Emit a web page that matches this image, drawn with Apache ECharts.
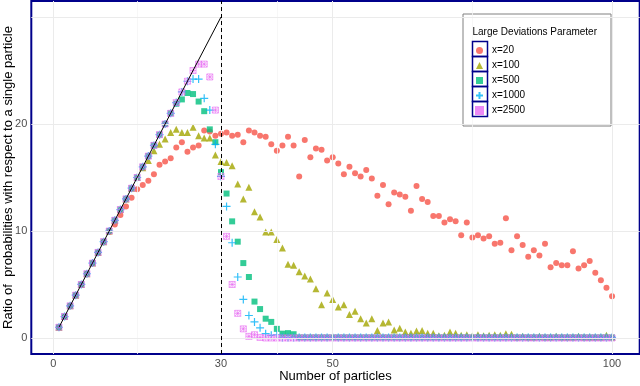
<!DOCTYPE html>
<html>
<head>
<meta charset="utf-8">
<script src="https://cdn.jsdelivr.net/npm/echarts@6/dist/echarts.min.js"></script>
<style>
html,body{margin:0;padding:0;background:#fff;}
#chart{width:640px;height:386px;}
</style>
</head>
<body>
<div id="chart"></div>
<script>
// Number of particles (x)
const particles = [1,2,3,4,5,6,7,8,9,10,11,12,13,14,15,16,17,18,19,20,21,22,23,24,25,26,27,28,29,30,
31,32,33,34,35,36,37,38,39,40,41,42,43,44,45,46,47,48,49,50,51,52,53,54,55,56,57,58,59,60,
61,62,63,64,65,66,67,68,69,70,71,72,73,74,75,76,77,78,79,80,81,82,83,84,85,86,87,88,89,90,
91,92,93,94,95,96,97,98,99,100];

const seriesNames = ['x=20','x=100','x=500','x=1000','x=2500'];

const ratioX20 = [1,2,3,4,5,6,7,8,9,9.9,10.6,11.5,12.3,13.1,13.9,14.3,14.7,15.3,16.2,16.5,
16.8,17.8,18.3,17.4,17.8,18.0,19.4,19.3,18.9,19.1,19.2,18.9,19.0,18.3,19.4,19.2,18.9,18.8,18.1,17.5,
18.0,18.8,18.0,15.1,18.5,16.9,17.7,17.6,16.6,16.9,16.3,15.3,16.0,15.4,15.1,15.7,14.9,13.3,14.3,12.5,
13.6,13.4,13.2,11.9,14.2,13.0,12.7,11.4,11.4,10.8,11.1,10.9,9.6,10.8,9.4,9.6,9.3,9.5,8.8,8.9,
11.2,8.2,9.5,8.7,7.6,8.2,7.7,8.8,6.6,7.0,6.8,6.8,8.1,6.5,6.8,7.2,6.1,5.4,4.7,3.9];

const ratioX100 = [1,2,3,4,5,6,7,8,9,10,11,12,13,14,15,15.9,16.6,17.5,18.1,18.6,
19.2,19.5,19.2,19.2,19.7,18.9,18.7,18.7,17.1,16.5,16.4,16.1,14.4,13.0,14.1,11.8,11.3,9.9,9.9,9.2,
8.4,6.9,6.8,6.2,5.8,5.5,4.6,3.1,4.2,3.6,2.9,3.1,2.2,2.5,1.8,1.4,1.8,0.7,1.4,1.5,
0.75,0.9,0.55,0.45,0.65,0.7,0.45,0.45,0.2,0.25,0.55,0.45,0.25,0.3,0.2,0.3,0.2,0.25,0.3,0.25,
0.4,0.35,0.1,0.15,0.1,0.1,0.15,0.1,0.1,0.15,0.1,0.1,0.1,0.15,0.1,0.1,0.1,0.1,0.25,0.1];

const ratioX500 = [1,2,3,4,5,6,7,8,9,10,11,12,13,14,15,16,17,18,19,20,
21,21.9,22.3,22.9,22.8,22.1,21.2,19.5,18.3,15.5,13.5,10.9,9.0,7.0,5.7,3.4,2.7,1.8,1.5,0.85,
0.4,0.45,0.35,0.05,0.05,0.05,0.05,0.05,0.05,0.05,0.05,0.05,0.05,0.05,0.05,0.05,0.05,0.05,0.05,0.05,
0.05,0.05,0.05,0.05,0.05,0.05,0.05,0.05,0.05,0.05,0.05,0.05,0.05,0.05,0.05,0.05,0.05,0.05,0.05,0.05,
0.05,0.05,0.05,0.05,0.05,0.05,0.05,0.05,0.05,0.05,0.05,0.05,0.05,0.05,0.05,0.05,0.05,0.05,0.05,0.05];

const ratioX1000 = [1,2,3,4,5,6,7,8,9,10,11,12,13,14,15,16,17,18,19,20,
21,22,23,24,24.2,24.2,22.4,21.3,18.1,15.1,12.3,8.9,5.7,3.6,2.1,1.5,0.95,0.4,0.25,0.3,
0.05,0.05,0.05,0.05,0.05,0.05,0.05,0.05,0.05,0.05,0.05,0.05,0.05,0.05,0.05,0.05,0.05,0.05,0.05,0.05,
0.05,0.05,0.05,0.05,0.05,0.05,0.05,0.05,0.05,0.05,0.05,0.05,0.05,0.05,0.05,0.05,0.05,0.05,0.05,0.05,
0.05,0.05,0.05,0.05,0.05,0.05,0.05,0.05,0.05,0.05,0.05,0.05,0.05,0.05,0.05,0.05,0.05,0.05,0.05,0.05];

const ratioX2500 = [1,2,3,4,5,6,7,8,9,10,11,12,13,14,15,16,17,18,19,20,
21,22,23,24,25,25.6,25.6,24.4,21.3,15.1,9.5,5.0,2.3,0.85,0.15,0.3,0.05,0,0,0,
0,0,0,0,0,0,0,0,0,0,0,0,0,0,0,0,0,0,0,0,
0,0,0,0,0,0,0,0,0,0,0,0,0,0,0,0,0,0,0,0,
0,0,0,0,0,0,0,0,0,0,0,0,0,0,0,0,0,0,0,0];

// Reference line y = x (from 1 to 30) and dashed cut at 30
const refLineX = [1, 30];
const refLineY = [1, 30];
const cutAt = 30;

// Axis ticks / gridlines
const xTickLabels = [0, 30, 50, 100];
const yTickLabels = [0, 10, 20];
const yTicks = [0, 10, 20, 30];
const xGrid = [0, 30, 50, 100];
const xMinorGrid = [15, 40, 75];
const yGrid = [0, 10, 20, 30];

const colors = ['#F8766D', '#A3A500', '#00BF7D', '#00B0F6', '#E76BF3'];

function pairs(ys) { return particles.map((p, i) => [p, ys[i]]); }

const chart = echarts.init(document.getElementById('chart'), null, {renderer: 'canvas'});

const FONT = 'Liberation Sans';

const keyBoxes = [0, 1, 2, 3, 4].map(i => ({
  type: 'rect', shape: {x: 472.5, y: 41.5 + i * 15, width: 15, height: 15},
  style: {fill: 'none', stroke: '#00008B', lineWidth: 1.5}, z: 10, silent: true
}));

const option = {
  animation: false,
  backgroundColor: '#fff',
  textStyle: {fontFamily: FONT},
  grid: {
    left: 31.3, top: 1, width: 608.4, height: 353,
    outerBoundsMode: 'none', containLabel: false,
    show: true, borderColor: '#00008B', borderWidth: 2, backgroundColor: 'transparent'
  },
  xAxis: {
    type: 'value', min: -3.95, max: 104.95,
    name: 'Number of particles', nameLocation: 'middle', nameGap: 16, nameMoveOverlap: false,
    nameTextStyle: {fontSize: 13, color: '#000', fontFamily: FONT},
    axisLine: {show: false},
    splitLine: {show: false},
    axisTick: {show: true, customValues: xTickLabels, length: 3, lineStyle: {color: '#333'}},
    axisLabel: {customValues: xTickLabels, color: '#4D4D4D', fontSize: 11, margin: 4, fontFamily: FONT}
  },
  yAxis: {
    type: 'value', min: -1.5, max: 31.5,
    name: 'Ratio of  probabilities with respect to a single particle',
    nameLocation: 'middle', nameGap: 16, nameRotate: 90, nameMoveOverlap: false,
    nameTextStyle: {fontSize: 13, color: '#000', fontFamily: FONT},
    axisLine: {show: false},
    splitLine: {show: false},
    axisTick: {show: true, customValues: yTicks, length: 3, lineStyle: {color: '#333'}},
    axisLabel: {customValues: yTickLabels, color: '#4D4D4D', fontSize: 11, margin: 4, fontFamily: FONT}
  },
  legend: {
    data: seriesNames,
    orient: 'vertical',
    left: 473.5, top: 43, padding: 0,
    itemWidth: 7, itemHeight: 7, itemGap: 0,
    textStyle: {fontSize: 10, lineHeight: 15, color: '#000', fontFamily: FONT, padding: [0, 0, 0, 4]},
    selectedMode: false
  },
  graphic: [
    {type: 'rect', shape: {x: 463, y: 14, width: 148, height: 112}, style: {fill: '#fff', stroke: '#808080', lineWidth: 1}, z: -1, silent: true},
    {type: 'text', x: 472.5, y: 32, style: {text: 'Large Deviations Parameter', fill: '#000', font: '10px "Liberation Sans"', textVerticalAlign: 'middle'}, silent: true},
    ...keyBoxes
  ],
  series: [
    {
      name: 'grid', type: 'line', data: [], z: 0, silent: true,
      markLine: {
        silent: true, symbol: 'none', label: {show: false}, animation: false,
        data: [
          ...xGrid.map(v => ({xAxis: v, lineStyle: {color: '#EBEBEB', width: 1, type: 'solid'}})),
          ...xMinorGrid.map(v => ({xAxis: v, lineStyle: {color: '#F5F5F5', width: 0.8, type: 'solid'}})),
          ...yGrid.map(v => ({yAxis: v, lineStyle: {color: '#EBEBEB', width: 1, type: 'solid'}}))
        ]
      }
    },
    {
      name: seriesNames[0], type: 'scatter', data: pairs(ratioX20), symbol: 'circle', symbolSize: 6,
      itemStyle: {color: colors[0], opacity: 1}, z: 2
    },
    {
      name: seriesNames[1], type: 'scatter', data: pairs(ratioX100), symbol: 'triangle', symbolSize: 7,
      itemStyle: {color: colors[1]}, z: 2
    },
    {
      name: seriesNames[2], type: 'scatter', data: pairs(ratioX500), symbol: 'rect', symbolSize: 6,
      itemStyle: {color: colors[2]}, z: 2
    },
    {
      name: seriesNames[3], type: 'scatter', data: pairs(ratioX1000),
      symbol: 'path://M0,5L10,5M5,0L5,10', symbolSize: 8,
      itemStyle: {color: 'none', borderColor: colors[3], borderWidth: 1.2}, z: 2
    },
    {
      name: seriesNames[4], type: 'scatter', data: pairs(ratioX2500),
      symbol: 'path://M0,0L10,0L10,10L0,10ZM0,0L10,10M10,0L0,10M5,0L5,10M0,5L10,5', symbolSize: 6,
      itemStyle: {color: 'none', borderColor: colors[4], borderWidth: 0.8}, z: 2
    },
    {
      name: 'ref', type: 'line', data: refLineX.map((v, i) => [v, refLineY[i]]),
      symbol: 'none', lineStyle: {color: '#000', width: 1}, z: 5, silent: true,
      markLine: {
        silent: true, symbol: 'none', label: {show: false},
        lineStyle: {color: '#000', width: 1, type: [4, 3]},
        data: [{xAxis: cutAt}]
      }
    }
  ]
};
chart.setOption(option);
</script>
</body>
</html>
